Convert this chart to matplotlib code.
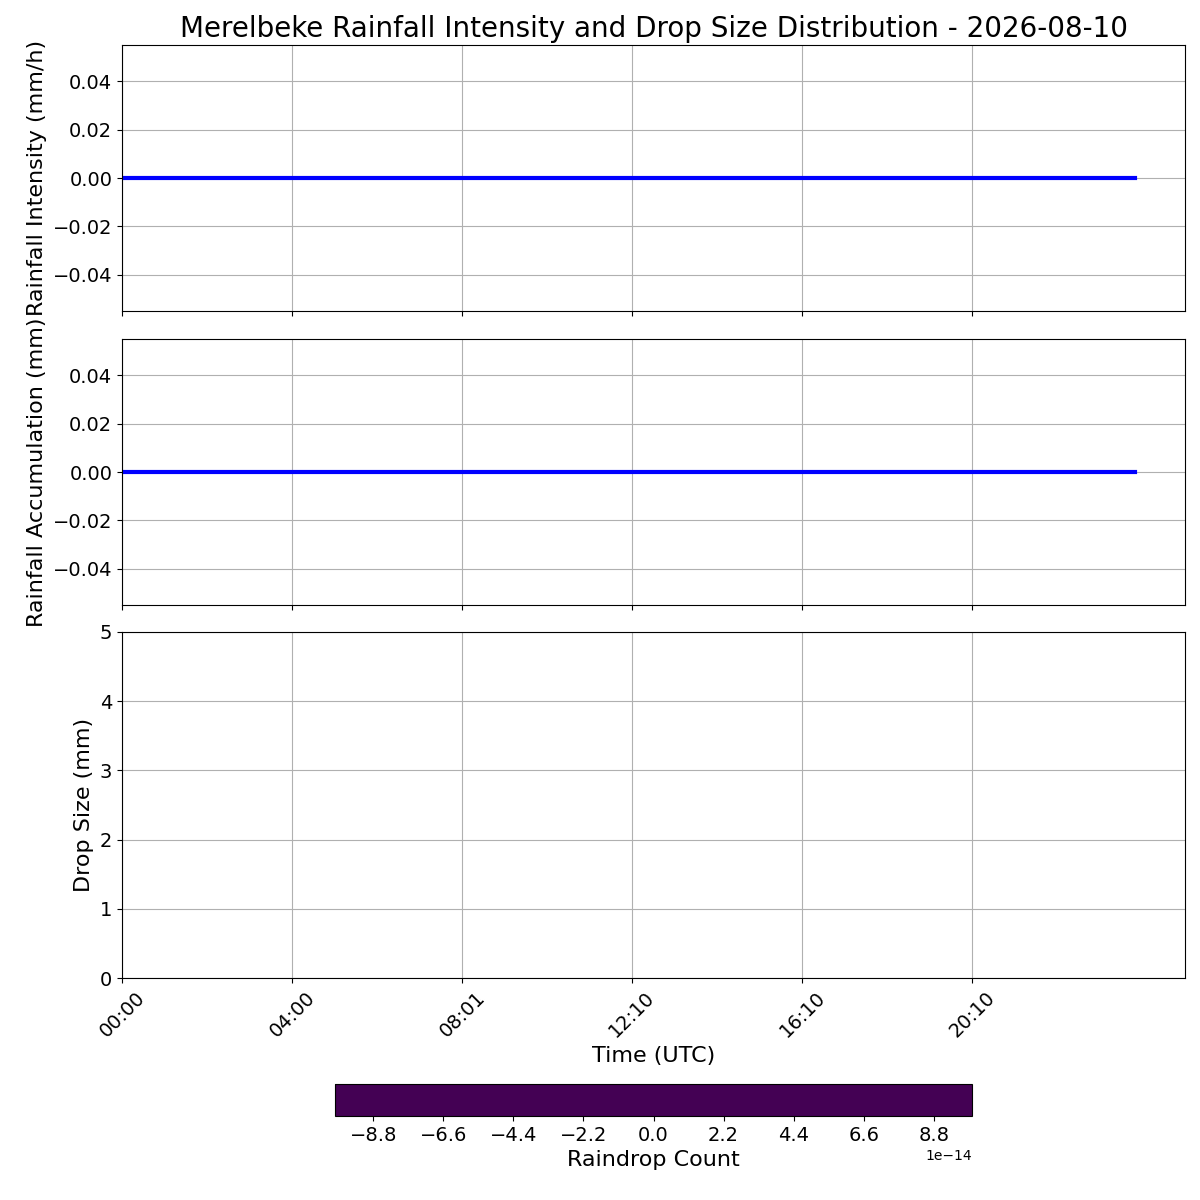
import numpy as np
import matplotlib
matplotlib.use("Agg")
import matplotlib.pyplot as plt
from matplotlib.colors import Normalize

# ---- data ----
n_samples = 144
rain_intensity = [0.0] * n_samples          # mm/h, all zero
rain_accum = [0.0] * n_samples              # mm, all zero
drop_bins = [0, 1, 2, 3, 4, 5]              # mm
tick_step = 24
time_tick_labels = ["00:00", "04:00", "08:01", "12:10", "16:10", "20:10"]
x_max = 150
cbar_range = [-1e-13, 1e-13]
cbar_ticks = [-8.8e-14, -6.6e-14, -4.4e-14, -2.2e-14, 0.0, 2.2e-14, 4.4e-14, 6.6e-14, 8.8e-14]

W = 1200.0
fig = plt.figure(figsize=(12, 12), dpi=100)

def rect(l, t, r, b):
    return [l / W, 1 - b / W, (r - l) / W, (b - t) / W]

ax1 = fig.add_axes(rect(122, 45, 1185, 311))
ax2 = fig.add_axes(rect(122, 339, 1185, 605), sharex=ax1)
ax3 = fig.add_axes(rect(122, 632, 1185, 978), sharex=ax1)
cax = fig.add_axes(rect(335, 1084, 972, 1116))

idx = np.arange(n_samples)

ax1.plot(idx, rain_intensity, color="blue", linewidth=3)
ax1.set_ylabel("Rainfall Intensity (mm/h)", fontsize=16)
ax1.set_title("Merelbeke Rainfall Intensity and Drop Size Distribution - 2026-08-10", fontsize=20)

ax2.plot(idx, rain_accum, color="blue", linewidth=3)
ax2.set_ylabel("Rainfall Accumulation (mm)", fontsize=16)

# drop size distribution: all-zero counts, masked (nothing drawn)
counts = np.ma.masked_equal(np.zeros((len(drop_bins) - 1, n_samples)), 0)
xe = np.arange(n_samples + 1)
norm = Normalize(vmin=cbar_range[0], vmax=cbar_range[1])
mesh = ax3.pcolormesh(xe, drop_bins, counts, cmap="viridis", norm=norm)
ax3.set_ylim(drop_bins[0], drop_bins[-1])
ax3.set_ylabel("Drop Size (mm)", fontsize=16)
ax3.set_xlabel("Time (UTC)", fontsize=16)

tick_pos = idx[::tick_step][:len(time_tick_labels)]
ax3.set_xticks(tick_pos)
ax3.set_xticklabels(time_tick_labels, rotation=45, ha="center")
ax3.set_xlim(0, x_max)

for ax in (ax1, ax2, ax3):
    ax.grid(True)
    ax.tick_params(labelsize=14)
for ax in (ax1, ax2):
    ax.tick_params(labelbottom=False)

cbar = fig.colorbar(mesh, cax=cax, orientation="horizontal",
                    boundaries=cbar_range, values=[cbar_range[0]])
cbar.set_ticks(cbar_ticks)
cbar.ax.tick_params(labelsize=14)
cbar.set_label("Raindrop Count", fontsize=16)

fig.savefig("out.png", dpi=100)
